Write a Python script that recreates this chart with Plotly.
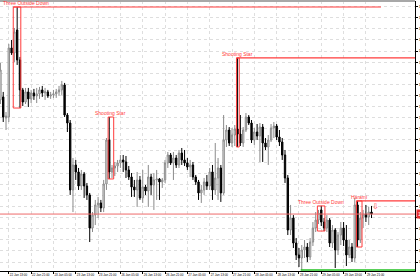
import plotly.graph_objects as go

# ---- data (hourly bars, index 0 = 22 Jan 13:00) ----
bar_index = list(range(-3, 131))
opens = [1.11460,1.11487,1.11297,1.11306,1.11928,1.11883,1.12090,1.11820,1.11550,1.11441,
 1.11532,1.11469,1.11523,1.11496,1.11514,1.11550,1.11523,1.11532,1.11496,1.11505,
 1.11514,1.11532,1.11550,1.11595,1.11324,1.11252,1.10649,1.10874,1.10811,1.10685,
 1.10793,1.10685,1.10604,1.10306,1.10423,1.10514,1.10532,1.10487,1.10703,1.11099,
 1.10811,1.10847,1.10865,1.10892,1.10919,1.10901,1.10829,1.10766,1.10676,1.10649,
 1.10739,1.10577,1.10676,1.10640,1.10766,1.10694,1.10739,1.10748,1.10721,1.10739,
 1.10892,1.10964,1.10892,1.10937,1.10874,1.10982,1.10919,1.10892,1.10856,1.10874,
 1.10766,1.10721,1.10622,1.10649,1.10721,1.10685,1.10811,1.10649,1.10757,1.10847,
 1.10622,1.11099,1.11189,1.11072,1.11144,1.11198,1.11153,1.11072,1.11189,1.11306,
 1.11252,1.11099,1.11171,1.11135,1.11216,1.11072,1.11036,1.11099,1.11207,1.11225,
 1.11126,1.11081,1.10964,1.10757,1.10288,1.10396,1.10171,1.10063,1.10036,1.10108,
 1.10135,1.10045,1.10180,1.10306,1.10378,1.10469,1.10360,1.10306,1.10378,1.10171,
 1.10288,1.10108,1.10243,1.10306,1.10198,1.10063,1.10135,1.10036,1.10514,1.10198,
 1.10396,1.10432,1.10405,1.10450]
highs = [1.11793,1.11532,1.11351,1.11964,1.12000,1.12108,1.12297,1.11847,1.11568,1.11568,
 1.11568,1.11550,1.11559,1.11568,1.11577,1.11586,1.11568,1.11550,1.11532,1.11550,
 1.11559,1.11586,1.11631,1.11613,1.11342,1.11279,1.10937,1.10919,1.10847,1.10829,
 1.10811,1.10712,1.10622,1.10450,1.10559,1.10586,1.10559,1.10739,1.11117,1.11306,
 1.10874,1.10901,1.10919,1.10964,1.10964,1.10955,1.10865,1.10802,1.10739,1.10811,
 1.10775,1.10829,1.10694,1.10874,1.10793,1.10802,1.10829,1.10757,1.10757,1.10919,
 1.10991,1.10982,1.10991,1.10964,1.11009,1.11027,1.11009,1.10937,1.10919,1.10901,
 1.10784,1.10739,1.10694,1.10757,1.10784,1.10847,1.10874,1.11072,1.10937,1.10874,
 1.11324,1.11234,1.11216,1.11207,1.11234,1.11838,1.11324,1.11216,1.11342,1.11324,
 1.11279,1.11207,1.11243,1.11252,1.11243,1.11117,1.11144,1.11243,1.11261,1.11243,
 1.11189,1.11117,1.11009,1.10784,1.10514,1.10423,1.10216,1.10126,1.10153,1.10198,
 1.10171,1.10216,1.10360,1.10450,1.10469,1.10505,1.10396,1.10423,1.10396,1.10333,
 1.10306,1.10270,1.10360,1.10360,1.10333,1.10198,1.10171,1.10577,1.10550,1.10450,
 1.10469,1.10514,1.10496,1.10505]
lows = [1.11423,1.11261,1.11189,1.11261,1.11865,1.11802,1.11775,1.11387,1.11405,1.11423,
 1.11396,1.11432,1.11460,1.11432,1.11469,1.11487,1.11460,1.11478,1.11469,1.11478,
 1.11478,1.11496,1.11505,1.11306,1.11171,1.10604,1.10450,1.10739,1.10649,1.10649,
 1.10577,1.10559,1.10180,1.10270,1.10333,1.10396,1.10450,1.10450,1.10649,1.10748,
 1.10757,1.10775,1.10811,1.10847,1.10811,1.10757,1.10739,1.10586,1.10586,1.10496,
 1.10559,1.10532,1.10604,1.10496,1.10604,1.10469,1.10559,1.10559,1.10667,1.10712,
 1.10847,1.10874,1.10739,1.10847,1.10847,1.10874,1.10865,1.10829,1.10766,1.10739,
 1.10694,1.10559,1.10532,1.10604,1.10649,1.10649,1.10559,1.10604,1.10559,1.10541,
 1.10604,1.11036,1.11045,1.11036,1.11045,1.11036,1.11045,1.11036,1.11171,1.11234,
 1.11072,1.11054,1.11099,1.10901,1.10901,1.11009,1.10874,1.11081,1.11117,1.11099,
 1.11045,1.10919,1.10712,1.10243,1.10243,1.10126,1.10018,1.09955,1.09928,1.10036,
 1.10000,1.10018,1.10144,1.10270,1.10342,1.10324,1.10279,1.10270,1.10135,1.10126,
 1.09946,1.10063,1.10153,1.10144,1.09964,1.10036,1.10000,1.10000,1.10135,1.10171,
 1.10306,1.10360,1.10333,1.10396]
closes = [1.11730,1.11306,1.11315,1.11928,1.11883,1.12072,1.11820,1.11550,1.11441,1.11532,
 1.11469,1.11523,1.11496,1.11514,1.11550,1.11523,1.11532,1.11496,1.11505,1.11514,
 1.11532,1.11550,1.11595,1.11324,1.11252,1.10649,1.10874,1.10811,1.10685,1.10793,
 1.10685,1.10604,1.10306,1.10423,1.10514,1.10532,1.10487,1.10703,1.11099,1.10811,
 1.10847,1.10865,1.10892,1.10919,1.10901,1.10829,1.10766,1.10676,1.10649,1.10739,
 1.10577,1.10676,1.10640,1.10766,1.10694,1.10739,1.10748,1.10721,1.10739,1.10892,
 1.10964,1.10892,1.10937,1.10874,1.10982,1.10919,1.10892,1.10856,1.10874,1.10766,
 1.10721,1.10622,1.10649,1.10721,1.10685,1.10811,1.10649,1.10757,1.10847,1.10622,
 1.11099,1.11189,1.11072,1.11144,1.11198,1.11153,1.11072,1.11189,1.11306,1.11252,
 1.11099,1.11171,1.11135,1.11216,1.11072,1.11036,1.11099,1.11207,1.11225,1.11126,
 1.11081,1.10964,1.10757,1.10288,1.10396,1.10171,1.10063,1.10036,1.10108,1.10135,
 1.10045,1.10180,1.10306,1.10378,1.10441,1.10360,1.10306,1.10378,1.10171,1.10288,
 1.10108,1.10243,1.10306,1.10198,1.10063,1.10135,1.10036,1.10514,1.10198,1.10396,
 1.10432,1.10405,1.10450,1.10432]

tick_index = [0, 8, 16, 24, 32, 40, 48, 56, 64, 72, 80, 88, 96, 104, 112, 120, 128]
tick_labels = ["22 Jan 13:00", "22 Jan 21:00", "23 Jan 05:00", "23 Jan 13:00", "23 Jan 21:00",
               "26 Jan 05:00", "26 Jan 13:00", "26 Jan 21:00", "27 Jan 05:00", "27 Jan 13:00",
               "27 Jan 21:00", "28 Jan 05:00", "28 Jan 13:00", "28 Jan 21:00", "29 Jan 05:00",
               "29 Jan 13:00", "29 Jan 21:00"]

pattern_names = ["Three Outside Down", "Shooting Star", "Shooting Star", "Three Outside Down", "Harami"]
pattern_start = [2, 36, 82, 111, 125]
pattern_end = [4, 37, 82, 113, 126]
pattern_extend_to = [133.4, None, "edge", None, "edge"]
pattern_label_anchor = ["left", "center", "center", "center", "center"]

price_ticks = [round(1.099 + 0.001 * k, 3) for k in range(0, 26)]

# ---- styling ----
RED = "#ff3b3b"
X_MIN, X_MAX = -3.154, 145.59
Y_MIN, Y_MAX = 1.09919, 1.12351

fig = go.Figure()
fig.add_trace(go.Candlestick(
    x=bar_index, open=opens, high=highs, low=lows, close=closes,
    increasing=dict(line=dict(color="#8a8a8a", width=1), fillcolor="#ececec"),
    decreasing=dict(line=dict(color="#000000", width=1), fillcolor="#000000"),
    whiskerwidth=0, showlegend=False, hoverinfo="skip"))

pos = {b: k for k, b in enumerate(bar_index)}
shapes = []
annotations = []
for name, s, e, ext, anc in zip(pattern_names, pattern_start, pattern_end,
                                pattern_extend_to, pattern_label_anchor):
    top = max(highs[pos[b]] for b in range(s, e + 1))
    bot = min(lows[pos[b]] for b in range(s, e + 1))
    x0 = s - 0.4
    if e - s == 2:
        x1 = s + 2.3
    elif e - s == 1:
        x1 = s + 1.6
    else:
        x1 = s + 0.6
    shapes.append(dict(type="rect", xref="x", yref="y", x0=x0, x1=x1, y0=bot, y1=top,
                       line=dict(color=RED, width=1)))
    if ext is not None:
        xe = X_MAX if ext == "edge" else ext
        shapes.append(dict(type="line", xref="x", yref="y", x0=x0, x1=xe, y0=top, y1=top,
                           line=dict(color=RED, width=1.2)))
    ax = X_MIN + 0.3 if anc == "left" else (x0 + x1) / 2
    annotations.append(dict(x=ax, y=top, xref="x", yref="y", text=name, showarrow=False,
                            xanchor=anc, yanchor="bottom", yshift=-1,
                            font=dict(size=5, color=RED, family="Liberation Sans")))

# lowest-low marker line (green)
low_k = min(range(len(lows)), key=lambda k: lows[k])
shapes.append(dict(type="line", xref="x", yref="y", x0=bar_index[low_k] - 0.4, x1=X_MAX,
                   y0=lows[low_k], y1=lows[low_k], line=dict(color="#22c022", width=1.5)))
# current price line
shapes.append(dict(type="line", xref="paper", yref="y", x0=0, x1=1, y0=closes[-1], y1=closes[-1],
                   line=dict(color="#ee6a6a", width=1)))
# top border
shapes.append(dict(type="line", xref="paper", yref="paper", x0=0, x1=1, y0=1, y1=1,
                   line=dict(color="#a8a8a8", width=2)))

# current price tag (clipped at the window edge like the reference)
annotations.append(dict(xref="paper", x=1, y=closes[-1], yref="y", text=f"{closes[-1]:.5f}",
                        showarrow=False, xanchor="left", yanchor="middle", xshift=1,
                        bgcolor="#e83030", font=dict(size=5, color="white", family="Liberation Sans"),
                        borderpad=1))
# sell arrow after Harami
h_top = max(highs[pos[b]] for b in range(pattern_start[4], pattern_end[4] + 1))
annotations.append(dict(x=pattern_end[4] + 5.6, y=h_top, xref="x", yref="y", text="⇩",
                        showarrow=False, xanchor="center", yanchor="top", yshift=1,
                        font=dict(size=8, color=RED, family="DejaVu Sans")))

fig.update_layout(
    width=420, height=280, margin=dict(l=0, r=5, t=1, b=9, pad=0, autoexpand=False),
    paper_bgcolor="white", plot_bgcolor="white",
    shapes=shapes, annotations=annotations, showlegend=False,
    xaxis=dict(range=[X_MIN, X_MAX], rangeslider=dict(visible=False), automargin=False,
               tickmode="array", tickvals=tick_index, ticktext=tick_labels, tickangle=0,
               ticklabelposition="outside right", ticks="outside", ticklen=2, tickcolor="black",
               tickfont=dict(size=3, color="black", family="Liberation Sans"),
               showgrid=True, gridcolor="#dedede", griddash="dot", gridwidth=1,
               showline=True, linecolor="black", linewidth=1, zeroline=False),
    yaxis=dict(range=[Y_MIN, Y_MAX], side="right", tickmode="array", tickvals=price_ticks,
               automargin=False,
               ticktext=[f"{v:.5f}" for v in price_ticks], ticks="outside", ticklen=2,
               tickcolor="black", tickfont=dict(size=4, color="black", family="Liberation Sans"),
               showgrid=True, gridcolor="#dedede", griddash="dot", gridwidth=1,
               showline=True, linecolor="black", linewidth=1, zeroline=False),
)

fig.write_html("out.html")
